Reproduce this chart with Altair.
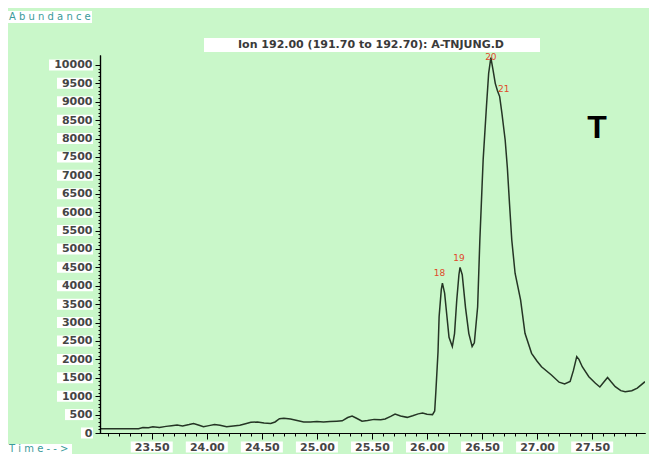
import altair as alt
import numpy as np
import pandas as pd

# ---- data ----
time = [23.03, 23.38, 23.42, 23.47, 23.51, 23.57, 23.63, 23.68, 23.73, 23.78,
        23.84, 23.88, 23.93, 23.97, 24.02, 24.07, 24.12, 24.18, 24.24, 24.30,
        24.36, 24.40, 24.46, 24.52, 24.58, 24.62, 24.66, 24.70, 24.76, 24.82,
        24.88, 24.94, 25.00, 25.06, 25.12, 25.18, 25.23, 25.28, 25.32, 25.36,
        25.41, 25.46, 25.52, 25.58, 25.62, 25.67, 25.71, 25.76, 25.82, 25.87,
        25.92, 25.96, 26.00, 26.05, 26.07, 26.08, 26.10, 26.11, 26.13, 26.14,
        26.16, 26.18, 26.20, 26.23, 26.25, 26.27, 26.29, 26.30, 26.32, 26.35,
        26.38, 26.41, 26.43, 26.46, 26.48, 26.50, 26.51, 26.54, 26.56, 26.58,
        26.60, 26.62, 26.64, 26.66, 26.68, 26.71, 26.73, 26.75, 26.77, 26.80,
        26.85, 26.89, 26.95, 27.00, 27.04, 27.13, 27.20, 27.25, 27.30, 27.33,
        27.36, 27.38, 27.41, 27.47, 27.53, 27.57, 27.61, 27.64, 27.67, 27.71,
        27.76, 27.80, 27.86, 27.91, 27.98]
abundance = [115, 115, 150, 140, 170, 150, 180, 200, 215, 190,
             230, 260, 210, 170, 200, 230, 210, 170, 190, 210,
             260, 290, 300, 270, 260, 300, 390, 400, 380, 340,
             300, 300, 310, 300, 310, 320, 330, 420, 460, 400,
             320, 340, 370, 360, 380, 450, 515, 460, 425, 470,
             520, 540, 510, 500, 600, 1100, 2200, 3160, 3900, 4070,
             3800, 3200, 2600, 2350, 2700, 3600, 4300, 4500, 4300, 3400,
             2700, 2350, 2450, 3430, 5245, 6700, 7420, 8870, 9775, 10200,
             9860, 9500, 9300, 9140, 8700, 7960, 7200, 6200, 5245, 4340,
             3615, 2710, 2165, 1950, 1800, 1575, 1380, 1330, 1400, 1700,
             2075, 2000, 1800, 1530, 1350, 1250, 1400, 1510, 1400, 1260,
             1150, 1120, 1150, 1220, 1395]

peak_labels = ["18", "19", "20", "21"]
peak_time = [26.14, 26.30, 26.58, 26.66]
peak_abund = [4070, 4500, 10200, 9140]

x_tick_labels = [23.5, 24.0, 24.5, 25.0, 25.5, 26.0, 26.5, 27.0, 27.5]
y_tick_labels = list(range(0, 10001, 500))

title_text = "Ion 192.00 (191.70 to 192.70): A-TNJUNG.D"

W, H = 545, 378
BG = "#c9f7c9"
FONT = "DejaVu Sans"
LABEL_COLOR = "#454545"

df = pd.DataFrame({"t": time, "a": abundance})
xs = alt.Scale(domain=[23.03, 27.98], nice=False, zero=False)
ys = alt.Scale(domain=[0, 10270], nice=False, zero=True)

x_minor = [round(v, 2) for v in np.arange(23.1, 27.95, 0.1)]
y_minor = list(range(0, 10001, 100))

common = dict(title=None, grid=False, domainColor="black", domainWidth=1.2,
              tickColor="black", tickWidth=1, zindex=2)

x_axis = alt.Axis(values=x_tick_labels, format=".2f", tickSize=6, orient="bottom",
                  labelOverlap=False, labelFont=FONT, labelFontSize=11,
                  labelFontWeight="bold", labelColor=LABEL_COLOR, labelPadding=2,
                  **common)
y_axis = alt.Axis(values=y_tick_labels, format="d", tickSize=5, orient="left",
                  labelOverlap=False, labelFont=FONT, labelFontSize=11,
                  labelFontWeight="bold", labelColor=LABEL_COLOR, labelPadding=3,
                  **common)
x_axis_minor = alt.Axis(values=x_minor, labels=False, tickSize=3, orient="bottom", **common)
y_axis_minor = alt.Axis(values=y_minor, labels=False, tickSize=2, orient="left", **common)

line = alt.Chart(df).mark_line(color="#253525", strokeWidth=1.5, clip=True).encode(
    x=alt.X("t:Q", scale=xs, axis=x_axis),
    y=alt.Y("a:Q", scale=ys, axis=y_axis),
)
minor = alt.Chart(df).mark_line(opacity=0).encode(
    x=alt.X("t:Q", scale=xs, axis=x_axis_minor),
    y=alt.Y("a:Q", scale=ys, axis=y_axis_minor),
)

# white boxes behind tick labels
xbox = pd.DataFrame({"t": x_tick_labels})
xbox_layer = alt.Chart(xbox).mark_rect(color="white", width=42, height=11).encode(
    x=alt.X("t:Q", scale=xs, axis=None),
    y=alt.value(H + 14),
)
ybox = pd.DataFrame({"a": y_tick_labels})
ybox["w"] = ybox["a"].astype(str).str.len() * 8 + 4
ybox_rects = []
for n in sorted(set(ybox["w"])):
    sub = ybox[ybox["w"] == n]
    ybox_rects.append(
        alt.Chart(sub).mark_rect(color="white", height=11).encode(
            y=alt.Y("a:Q", scale=ys, axis=None),
            x=alt.value(-7 - int(n)),
            x2=alt.value(-7),
        )
    )

title_box = alt.Chart(pd.DataFrame({"k": [0]})).mark_rect(color="white").encode(
    x=alt.value(104), x2=alt.value(440), y=alt.value(-17), y2=alt.value(-3)
)

offsets = [(-3, -10), (-1, -9), (0, -1), (4, -8)]
peak_layers = []
for lab, t, a, (dx, dy) in zip(peak_labels, peak_time, peak_abund, offsets):
    d = pd.DataFrame({"t": [t], "a": [a], "lab": [lab]})
    peak_layers.append(
        alt.Chart(d).mark_text(color="#e04a2a", fontSize=9, font=FONT, dx=dx, dy=dy).encode(
            x=alt.X("t:Q", scale=xs, axis=None), y=alt.Y("a:Q", scale=ys, axis=None), text="lab:N"
        )
    )

def txt(s, x, y, **kw):
    return alt.Chart(pd.DataFrame({"s": [s]})).mark_text(**kw).encode(
        x=alt.value(x), y=alt.value(y), text="s:N"
    )

title = txt(title_text, 271, -10, font=FONT, fontSize=11, fontWeight="bold",
            color="#3a3a3a", align="center", baseline="middle")
big_t = txt("T", 497, 73, font="Liberation Sans", fontSize=32, fontWeight="bold",
            color="black", align="center", baseline="middle")
abund_box = alt.Chart(pd.DataFrame({"k": [0]})).mark_rect(color="white").encode(
    x=alt.value(-92), x2=alt.value(-8), y=alt.value(-44), y2=alt.value(-32)
)
abund_lbl = txt("A b u n d a n c e", -91, -38, font=FONT, fontSize=10,
                color="#3a9a9a", align="left", baseline="middle")
time_box = alt.Chart(pd.DataFrame({"k": [0]})).mark_rect(color="white").encode(
    x=alt.value(-92), x2=alt.value(-28), y=alt.value(H + 11), y2=alt.value(H + 21)
)
time_lbl = txt("T i m e - - >", -91, H + 16, font=FONT, fontSize=10,
               color="#3a9a9a", align="left", baseline="middle")

chart = alt.layer(
    line, minor, title_box, xbox_layer, *ybox_rects, *peak_layers, title, big_t,
    abund_box, abund_lbl, time_box, time_lbl,
).resolve_axis(x="independent", y="independent").properties(
    width=W, height=H,
    autosize=alt.AutoSizeParams(type="none"),
    padding={"left": 92, "top": 47, "right": 4, "bottom": 21},
    background=BG,
).configure_view(stroke=None)

chart.save("out.html", embed_options={"renderer": "svg", "actions": False})
